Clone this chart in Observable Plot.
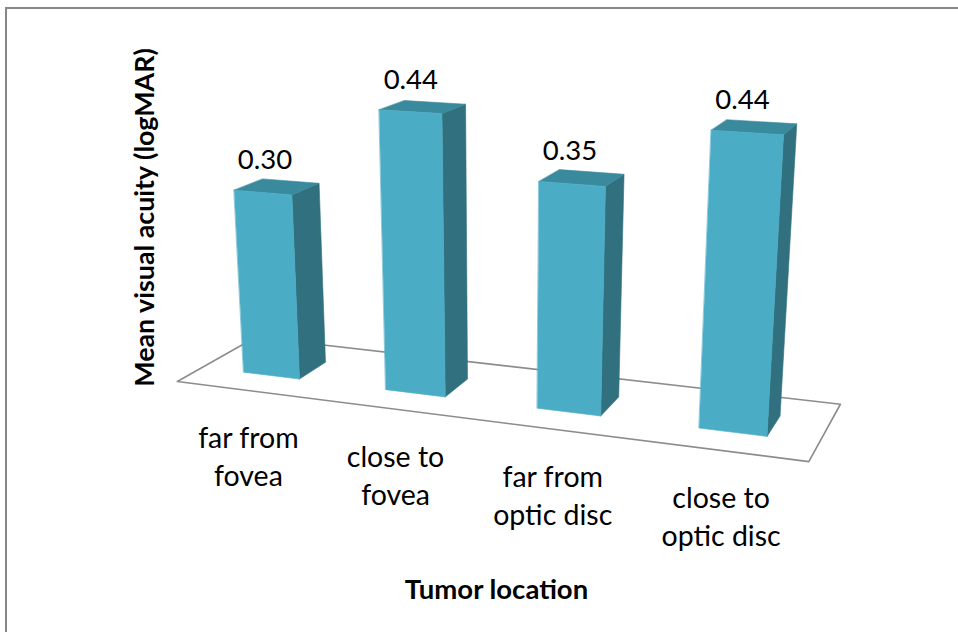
<!DOCTYPE html>
<html><head><meta charset="utf-8">
<script src="https://cdn.jsdelivr.net/npm/d3@7"></script>
<script src="https://cdn.jsdelivr.net/npm/@observablehq/plot@0.6"></script>
<style>
html,body{margin:0;padding:0;background:#fff;}
#chart{position:relative;width:958px;height:632px;overflow:hidden;}
#border{position:absolute;left:5px;top:7px;width:1000px;height:700px;border-top:2px solid #878787;border-left:2px solid #878787;pointer-events:none;}
</style></head><body>
<div id="chart"><div id="border"></div></div>
<script>
// Mean visual acuity by tumor location
const categories = ["far from\nfovea", "close to\nfovea", "far from\noptic disc", "close to\noptic disc"];
const values = [0.30, 0.44, 0.35, 0.44];
const valueLabels = ["0.30", "0.44", "0.35", "0.44"];

// 3-D view: the scene is turned about the vertical axis and tilted toward the viewer
const deg = Math.PI / 180;
const camera = {yaw: 20.5 * deg, pitch: 18.8 * deg, focal: 1664, distance: 10.3, cx: 501, cy: 392.8};
// world units: one category per unit along the floor
const scene = {unitsPerValue: 3.957, floorFront: 0.502, floorBack: 0.5275, barHalfDepth: 0.186, barWidth: 0.4, n: categories.length};

// perspective projection onto the image plane (u right, w up)
function project(X, v, Z) {
  const x = X - scene.n / 2, y = v * scene.unitsPerValue, z = Z;
  const c = Math.cos(camera.yaw), s = Math.sin(camera.yaw);
  const x1 = x * c - z * s, z1 = x * s + z * c;
  const cp = Math.cos(camera.pitch), sp = Math.sin(camera.pitch);
  const y2 = y * cp - z1 * sp, z2 = y * sp + z1 * cp;
  const d = camera.distance - z2;
  return {u: x1 / d, w: y2 / d};
}

const W = 958, H = 632;

// floor outline
const floorPts = [[0, scene.floorFront], [scene.n, scene.floorFront], [scene.n, -scene.floorBack], [0, -scene.floorBack]]
  .map(([X, Z]) => project(X, 0, Z));

// bar faces, painted back to front
const faces = [];
values.forEach((v, i) => {
  const X0 = i + 0.5 - scene.barWidth / 2, X1 = i + 0.5 + scene.barWidth / 2;
  const Zf = scene.barHalfDepth, Zb = -scene.barHalfDepth;
  const add = (face, color, pts) => pts.forEach(([X, h, Z]) => faces.push({key: `${i}-${face}`, color, ...project(X, h, Z)}));
  add("side", "#31717f", [[X1, 0, Zf], [X1, 0, Zb], [X1, v, Zb], [X1, v, Zf]]);
  add("top", "#3a8a9e", [[X0, v, Zf], [X1, v, Zf], [X1, v, Zb], [X0, v, Zb]]);
  add("front", "#4bacc6", [[X0, 0, Zf], [X1, 0, Zf], [X1, v, Zf], [X0, v, Zf]]);
});

const tops = values.map((v, i) => ({label: valueLabels[i], ...project(i + 0.5, v, 0)}));
const cats = categories.map((c, i) => ({label: c, ...project(i + 0.5, 0, scene.floorFront)}));

const font = "Lato, 'Open Sans', sans-serif";
const chart = Plot.plot({
  width: W, height: H, margin: 0,
  x: {type: "linear", domain: [(0 - camera.cx) / camera.focal, (W - camera.cx) / camera.focal], range: [0, W], axis: null},
  y: {type: "linear", domain: [(camera.cy - H) / camera.focal, camera.cy / camera.focal], range: [H, 0], axis: null},
  style: {fontFamily: font, background: "#fff"},
  marks: [
    Plot.line(floorPts, {x: "u", y: "w", curve: "linear-closed", stroke: "#8c8c8c", strokeWidth: 1.6, fill: "#fff"}),
    Plot.line(faces, {x: "u", y: "w", z: "key", fill: "color", stroke: "color", strokeWidth: 0.6, curve: "linear-closed"}),
    Plot.text(tops, {x: "u", y: "w", text: "label", dx: -12, dy: -27, fontSize: 27.5, fill: "#000"}),
    Plot.text(cats, {x: "u", y: "w", text: "label", dx: 1, dy: 64.5, fontSize: 28.5, lineHeight: 1.33, fill: "#000"}),
    Plot.text(["Mean visual acuity (logMAR)"], {frameAnchor: "top-left", dx: 145, dy: 217, rotate: -90,
      textAnchor: "middle", lineAnchor: "middle", fontSize: 26.8, fontWeight: "bold", fill: "#000"}),
    Plot.text(["Tumor location"], {frameAnchor: "top-left", dx: 496, dy: 590,
      textAnchor: "middle", lineAnchor: "middle", fontSize: 27.5, fontWeight: "bold", fill: "#000"})
  ]
});
document.getElementById("chart").prepend(chart);
</script>
</body></html>
